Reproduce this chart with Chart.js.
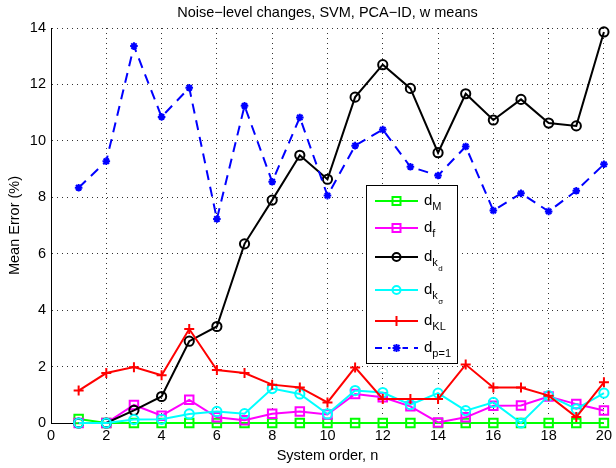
<!DOCTYPE html>
<html>
<head>
<meta charset="utf-8">
<script src="https://cdn.jsdelivr.net/npm/chart.js@4.4.0/dist/chart.umd.min.js"></script>
<style>
  html,body{margin:0;padding:0;background:#fff;}
  #wrap{width:616px;height:468px;position:relative;}
</style>
</head>
<body>
<div id="wrap"><canvas id="c" width="616" height="468"></canvas></div>
<script>
// data
const orders = [1,2,3,4,5,6,7,8,9,10,11,12,13,14,15,16,17,18,19,20];
const dM   = [0.14,0,0,0,0,0,0,0,0,0,0,0,0,0,0,0,0,0,0,0];
const dF   = [0,0,0.64,0.26,0.82,0.2,0.1,0.33,0.41,0.3,1.03,0.91,0.59,0.02,0.2,0.61,0.62,0.94,0.67,0.44];
const dKd  = [0,0,0.45,0.94,2.9,3.42,6.35,7.9,9.49,8.64,11.55,12.7,11.86,9.58,11.67,10.74,11.47,10.63,10.53,13.86];
const dKs  = [0,0,0.12,0.13,0.32,0.41,0.33,1.22,1.03,0.32,1.15,1.08,0.65,1.06,0.44,0.73,0,0.97,0.5,1.06];
const dKL  = [1.15,1.77,1.98,1.69,3.33,1.88,1.77,1.36,1.26,0.73,1.97,0.85,0.85,0.85,2.07,1.26,1.26,0.97,0.21,1.44];
const dP1  = [8.34,9.28,13.36,10.85,11.88,7.23,11.24,8.55,10.83,8.06,9.83,10.4,9.08,8.77,9.8,7.53,8.14,7.5,8.23,9.17];
const xTicks = [0,2,4,6,8,10,12,14,16,18,20];
const yTicks = [0,2,4,6,8,10,12,14];

const titleText = "Noise\u2212level changes, SVM, PCA\u2212ID, w means";
const xLabel = "System order, n";
const yLabel = "Mean Error (%)";
const FONT = "'Liberation Sans', Arial, sans-serif";

function pts(arr){ return arr.map((v,i)=>({x:orders[i], y:v})); }

const series = [
  {name:"d", sub:"M",  data:dM,  color:"#00ff00", style:"rect",   r:6,   dash:[]},
  {name:"d", sub:"f",  data:dF,  color:"#ff00ff", style:"rect",   r:6,   dash:[]},
  {name:"d", sub:"k", sub2:"d", data:dKd, color:"#000000", style:"circle", r:4.6, dash:[]},
  {name:"d", sub:"k", sub2:"\u03c3", data:dKs, color:"#00ffff", style:"circle", r:4.6, dash:[]},
  {name:"d", sub:"KL", data:dKL, color:"#ff0000", style:"cross",  r:5,   dash:[]},
  {name:"d", sub:"p=1",data:dP1, color:"#0000ff", style:"star",   r:3.8, dash:[10,7]}
];

const datasets = series.map((s,i)=>({
  label: s.name + s.sub + (s.sub2||""),
  data: pts(s.data),
  borderColor: s.color,
  backgroundColor: "rgba(0,0,0,0)",
  borderWidth: 2,
  borderDash: s.dash,
  pointStyle: s.style,
  pointRadius: s.r,
  pointBorderColor: s.color,
  pointBackgroundColor: "rgba(0,0,0,0)",
  pointBorderWidth: 2,
  tension: 0,
  clip: false,
  order: series.length - i
}));

// title + custom legend with subscripts
const extras = {
  id: "extras",
  afterDraw(chart){
    const ctx = chart.ctx, ca = chart.chartArea;
    ctx.save();
    ctx.fillStyle = "#000";
    ctx.font = "14.5px " + FONT;
    ctx.textAlign = "center";
    ctx.textBaseline = "middle";
    ctx.fillText(titleText, (ca.left+ca.right)/2, 13);

    // legend box
    const bx = 366.5, by = 185.5, bw = 91, bh = 178;
    ctx.fillStyle = "#fff";
    ctx.fillRect(bx, by, bw, bh);
    ctx.strokeStyle = "#000";
    ctx.lineWidth = 1;
    ctx.setLineDash([]);
    ctx.strokeRect(bx, by, bw, bh);

    const rowsY = [201, 228, 257, 290, 321, 348];
    series.forEach((s,i)=>{
      const y = rowsY[i];
      ctx.strokeStyle = s.color;
      ctx.lineWidth = 2;
      ctx.setLineDash(s.dash.length ? [7,6] : []);
      ctx.beginPath();
      ctx.moveTo(375, y); ctx.lineTo(418, y);
      ctx.stroke();
      ctx.setLineDash([]);
      const mx = 396.5, r = 4;
      ctx.beginPath();
      if (s.style === "rect") {
        ctx.strokeRect(mx-r, y-r, 2*r, 2*r);
      } else if (s.style === "circle") {
        ctx.arc(mx, y, r, 0, Math.PI*2); ctx.stroke();
      } else if (s.style === "cross") {
        ctx.moveTo(mx-r-1, y); ctx.lineTo(mx+r+1, y);
        ctx.moveTo(mx, y-r-1); ctx.lineTo(mx, y+r+1); ctx.stroke();
      } else {
        if (s.dash.length) { ctx.fillStyle="#fff"; ctx.fillRect(mx-6,y-3,12,6); }
        const q = 3;
        ctx.moveTo(mx-q, y-q); ctx.lineTo(mx+q, y+q);
        ctx.moveTo(mx+q, y-q); ctx.lineTo(mx-q, y+q);
        ctx.moveTo(mx-q-1, y); ctx.lineTo(mx+q+1, y);
        ctx.moveTo(mx, y-q-1); ctx.lineTo(mx, y+q+1); ctx.stroke();
      }
      ctx.fillStyle = "#000";
      ctx.textAlign = "left";
      ctx.textBaseline = "alphabetic";
      ctx.font = "15px " + FONT;
      ctx.fillText(s.name, 424, y + 4);
      const dw = ctx.measureText(s.name).width;
      ctx.font = "11px " + FONT;
      ctx.fillText(s.sub, 424 + dw, y + 9);
      if (s.sub2) {
        const kw = ctx.measureText(s.sub).width;
        ctx.font = "8px " + FONT;
        ctx.fillText(s.sub2, 424 + dw + kw + 0.5, y + 14);
      }
    });
    ctx.restore();
  }
};

new Chart(document.getElementById("c"), {
  type: "line",
  data: { datasets },
  options: {
    responsive: false,
    animation: false,
    events: [],
    layout: { padding: { top: 28, right: 7, left: 0, bottom: 0 } },
    plugins: { legend: { display: false }, title: { display: false }, tooltip: { enabled: false } },
    scales: {
      x: {
        type: "linear", min: 0, max: 20,
        afterBuildTicks: s => { s.ticks = xTicks.map(v=>({value:v})); },
        afterFit: s => { s.height = 45; },
        border: { display: true, color: "#000", width: 1, dash: [1,4] },
        grid: { color: "#333", lineWidth: 1, drawTicks: false },
        ticks: { color: "#000", font: { family: FONT, size: 14.5 }, padding: 4, maxRotation: 0 },
        title: { display: true, text: xLabel, color: "#000", font: { family: FONT, size: 14.5 }, padding: { top: 0, bottom: 3 } }
      },
      y: {
        type: "linear", min: 0, max: 14,
        afterBuildTicks: s => { s.ticks = yTicks.map(v=>({value:v})); },
        afterFit: s => { s.width = 51; },
        border: { display: true, color: "#000", width: 1, dash: [1,4] },
        grid: { color: "#333", lineWidth: 1, drawTicks: false },
        ticks: { color: "#000", font: { family: FONT, size: 14.5 }, padding: 5 },
        title: { display: true, text: yLabel, color: "#000", font: { family: FONT, size: 14.5 }, padding: { top: 6, bottom: 0 } }
      }
    }
  },
  plugins: [extras]
});
</script>
</body>
</html>
